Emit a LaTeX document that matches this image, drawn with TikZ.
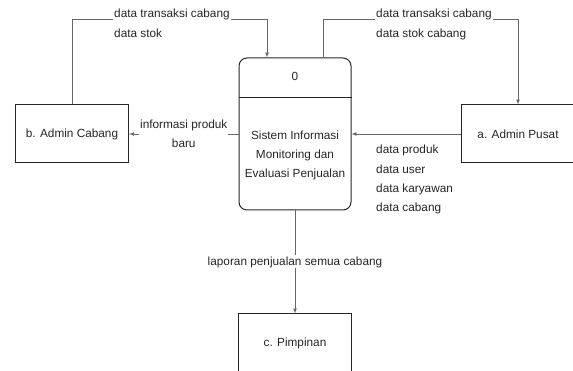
\documentclass[tikz,border=0pt]{standalone}
\usepackage{fontspec}
\setmainfont{Liberation Sans}
\usetikzlibrary{positioning}

\begin{document}
\begin{tikzpicture}[x=1pt,y=-1pt,node distance=223pt,>=latex,
	every node/.style={font=\fontsize{11.8}{19.3}\selectfont,text=black!85},
	entity/.style={draw=black!85,line width=1pt,minimum width=113pt,minimum height=58pt},
	process/.style={draw=black!85,line width=1pt,rounded corners=8pt,minimum width=112pt,minimum height=152pt},
	flow/.style={draw=black!60,line width=0.7pt},
	lbl/.style={fill=white,inner sep=1pt,align=left}]
\useasboundingbox (0,0) rectangle (573,371);
\node[process]		(proc)	at (295,134)		{};
\node[entity]		(cabang)	[left of=proc]		{b. Admin Cabang};
\node[entity]		(pusat)	[right of=proc]		{a. Admin Pusat};
\node[entity]		(pimpinan)	[below of=proc,node distance=209pt]	{c. Pimpinan};
\coordinate		(div)	at ([yshift=-40pt]proc.north);
\draw[draw=black!85,line width=1pt] (proc.west |- div) -- (proc.east |- div);
\node			(nomor)	at ([yshift=-19pt]proc.north)	{0};
\node[align=center]	(nama)	at ([yshift=-98pt]proc.north)	{Sistem Informasi\\Monitoring dan\\Evaluasi Penjualan};
% aliran data
\coordinate		(top)	at (0,19);
\coordinate		(in1)	at ([xshift=-28pt]proc.north);
\coordinate		(out1)	at ([xshift=28pt]proc.north);
\draw[flow,->]	(cabang.north) |- (in1 |- top) -- (in1);
\node[lbl,anchor=north west] at (113,8) {data transaksi cabang\\data stok};
\draw[flow,->]	(out1) |- (pusat.north |- top) -- (pusat.north);
\node[lbl,anchor=north west] at (375,8) {data transaksi cabang\\data stok cabang};
\draw[flow,->]	(proc.west) -- node[lbl,align=center] {informasi produk\\baru} (cabang.east);
\draw[flow,->]	(pusat.west) -- (proc.east);
\node[lbl,anchor=north west] at (375,144) {data produk\\data user\\data karyawan\\data cabang};
\draw[flow,->]	(proc.south) -- node[lbl] {laporan penjualan semua cabang} (pimpinan.north);
\end{tikzpicture}
\end{document}
